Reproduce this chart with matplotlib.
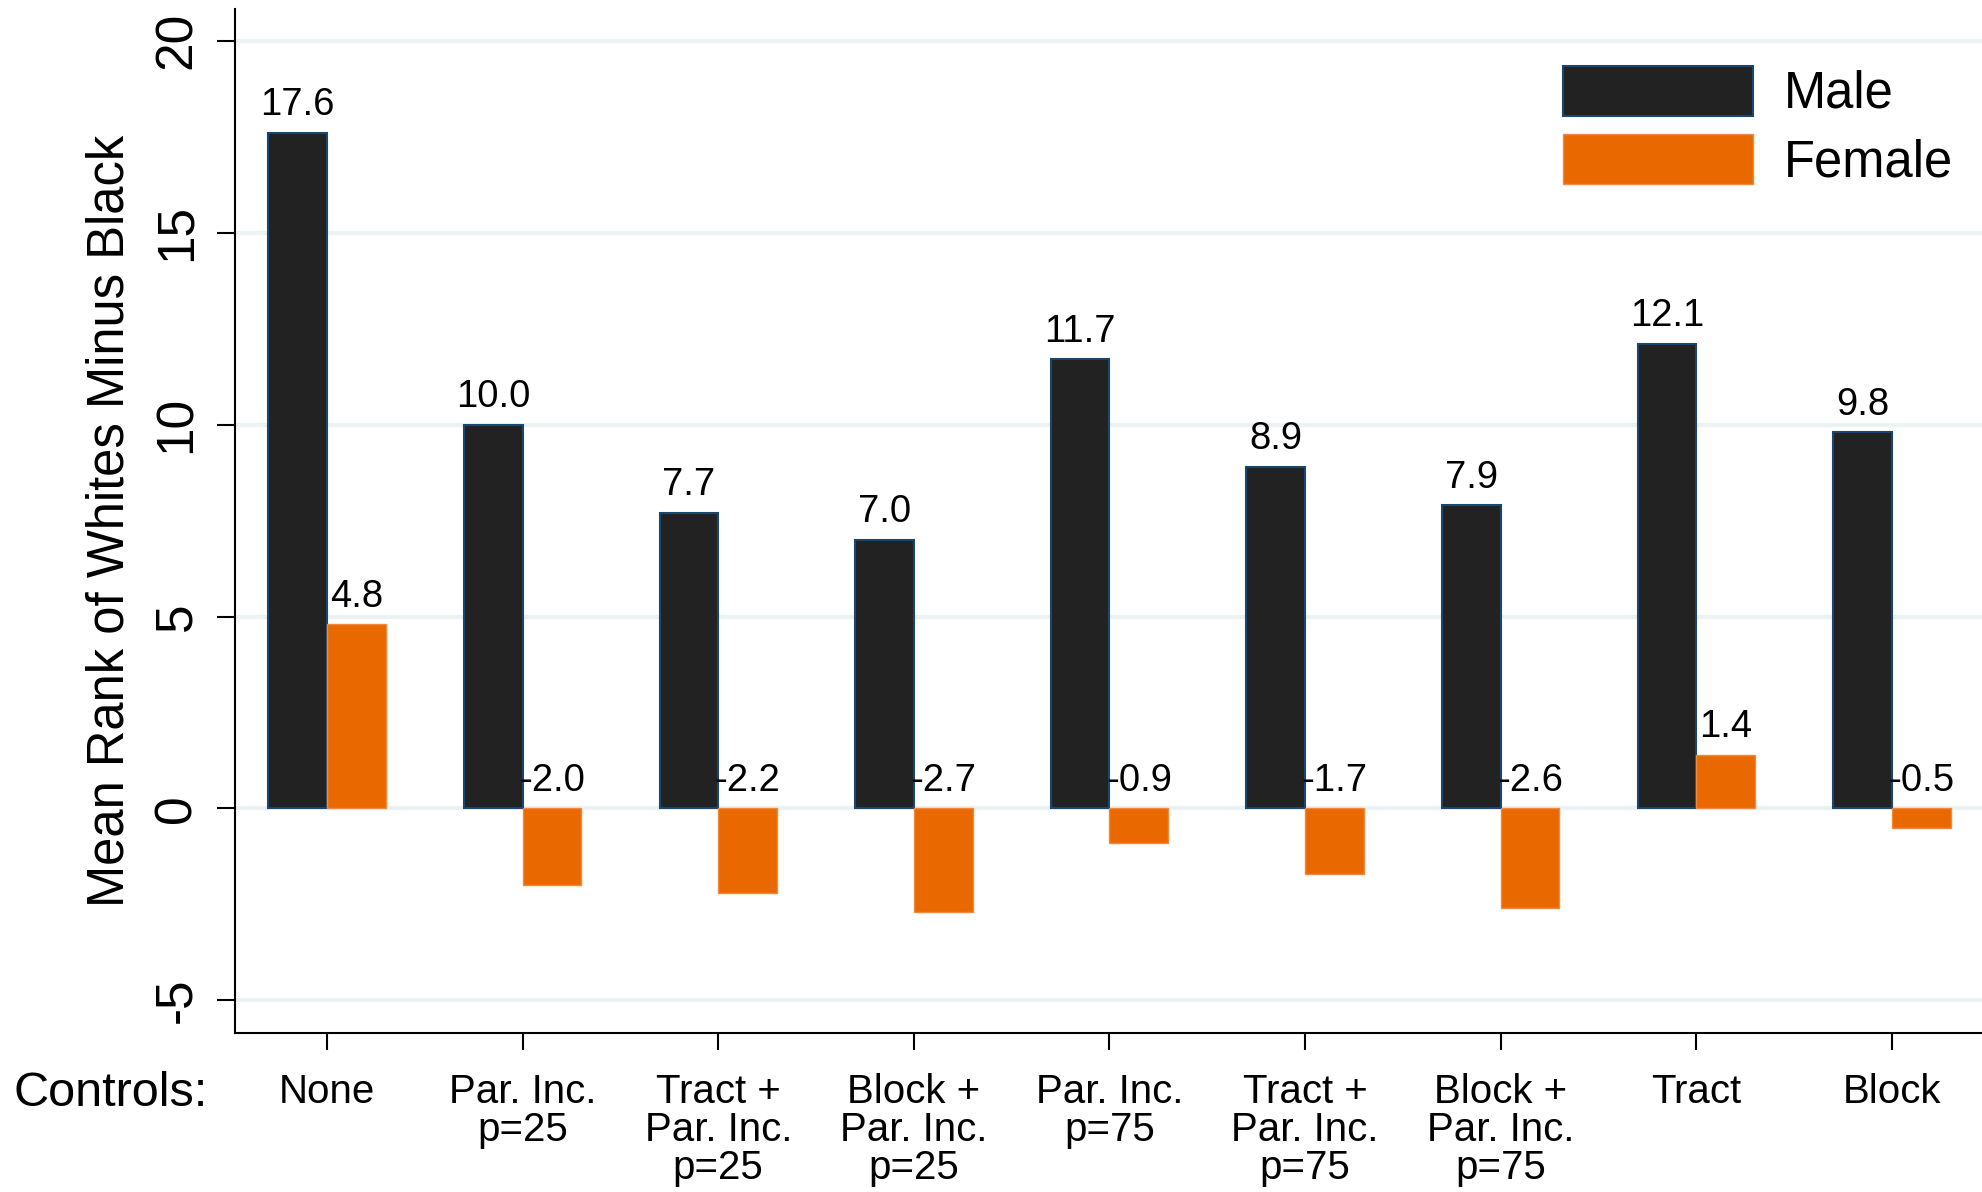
import matplotlib
matplotlib.use("Agg")
import matplotlib.pyplot as plt
import numpy as np

plt.rcParams["font.family"] = ["Liberation Sans", "DejaVu Sans"]

# ─── Data ──────────────────────────────────────────────────────────────
CONTROLS = ["None", "Par. Inc.\np=25", "Tract +\nPar. Inc.\np=25",
            "Block +\nPar. Inc.\np=25", "Par. Inc.\np=75",
            "Tract +\nPar. Inc.\np=75", "Block +\nPar. Inc.\np=75",
            "Tract", "Block"]
MALE   = [17.6, 10.0, 7.7, 7.0, 11.7, 8.9, 7.9, 12.1, 9.8]
FEMALE = [4.8, -2.0, -2.2, -2.7, -0.9, -1.7, -2.6, 1.4, -0.5]
Y_TICKS = [-5, 0, 5, 10, 15, 20]

COLOR_MALE = "#222222"; EDGE_MALE = "#1a476f"
COLOR_FEMALE = "#ea6800"; EDGE_FEMALE = "#f08a40"
COLOR_GRID = "#eaf2f3"

fig = plt.figure(figsize=(19.82, 11.92), dpi=100, facecolor="white")
ax = fig.add_axes([235/1982, 1 - 1033/1192, 1 - 235/1982, (1033 - 9)/1192])

x = np.arange(len(CONTROLS))
w = 0.30
ax.bar(x - w/2, MALE, w, color=COLOR_MALE, edgecolor=EDGE_MALE,
       linewidth=1.5, label="Male", zorder=3)
ax.bar(x + w/2, FEMALE, w, color=COLOR_FEMALE, edgecolor=EDGE_FEMALE,
       linewidth=1.0, label="Female", zorder=3)

# value labels (negatives sit on the zero line, Stata-style)
for xs, vals in [(x - w/2, MALE), (x + w/2, FEMALE)]:
    for xi, v in zip(xs, vals):
        ax.annotate(f"{v:.1f}", (xi, max(v, 0)), xytext=(0, 7),
                    textcoords="offset points", ha="center", va="bottom",
                    fontsize=27.5, color="black", zorder=5)

ax.set_xlim(-0.47, 8.46)
ax.set_ylim(-5.85, 20.83)
ax.set_yticks(Y_TICKS)
ax.set_yticklabels([str(t) for t in Y_TICKS], rotation=90, va="center",
                   fontsize=37)
ax.set_xticks(x)
ax.set_xticklabels(CONTROLS, fontsize=29, linespacing=1.0)
ax.tick_params(axis="y", length=13, width=1.5, pad=11)
ax.tick_params(axis="x", length=12, width=1.5, pad=17)
ax.set_ylabel("Mean Rank of Whites Minus Black", fontsize=36.5, labelpad=13)

ax.yaxis.grid(True, color=COLOR_GRID, linewidth=3, zorder=0)
ax.set_axisbelow(True)
for s in ["top", "right"]:
    ax.spines[s].set_visible(False)
for s in ["left", "bottom"]:
    ax.spines[s].set_linewidth(1.5)

fig.text(13/1982, 1 - 1093/1192, "Controls:", fontsize=35,
         ha="left", va="center")

ax.legend(loc="upper right", bbox_to_anchor=(1.0086, 1 - 20/1192),
          bbox_transform=fig.transFigure, fontsize=36.5,
          frameon=False, handlelength=3.75, handleheight=1.15,
          handletextpad=0.62, labelspacing=0.3, borderaxespad=0.5)

fig.savefig("out.png", dpi=100, facecolor="white")
